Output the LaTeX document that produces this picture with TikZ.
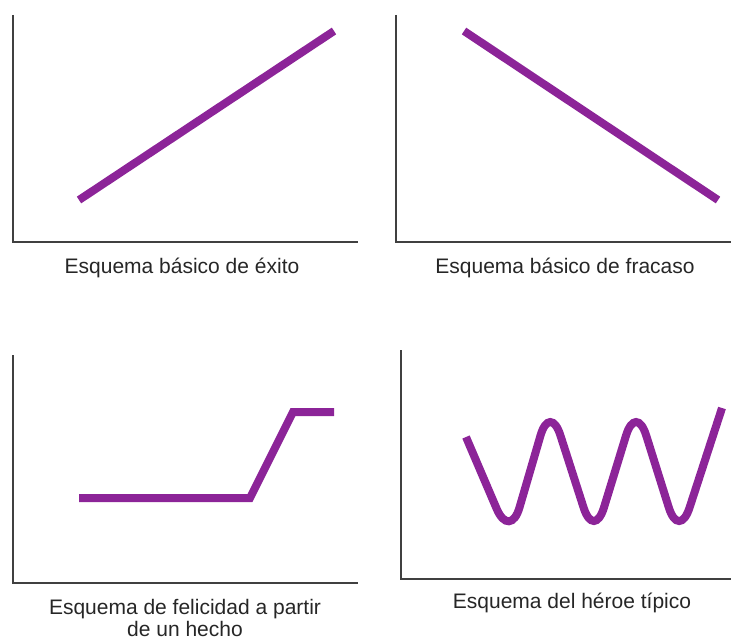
\documentclass[tikz,border=0pt]{standalone}
\usepackage{fontspec}
\setmainfont{Liberation Sans}
\usepackage{xcolor}
\usepackage{tikz}
\usetikzlibrary{positioning,calc}
\definecolor{plotpurple}{RGB}{140,36,152}
\definecolor{axisgray}{RGB}{64,64,64}

\begin{document}
\begin{tikzpicture}[x=1pt, y=-1pt,
    axis/.style={axisgray, line width=2pt},
    curve/.style={plotpurple, line width=8pt},
    caption/.style={anchor=base, text=black!85, font=\fontsize{21}{22}\selectfont}]
    \useasboundingbox (0,0) rectangle (731,642);

    % Exito
    \draw[axis] (13,15) -- (13,242) -- (358,242);
    \draw[curve] (79,200) -- (334,31);
    \node[caption] (exito) at (182,273) {Esquema básico de éxito};

    % Fracaso
    \draw[axis] (396,15) -- (396,242) -- (731,242);
    \draw[curve] (464,31) -- (718,200);
    \node[caption] (fracaso) at (565,273) {Esquema básico de fracaso};

    % Felicidad
    \draw[axis] (13,355) -- (13,583) -- (358,583);
    \draw[curve] (79,498) -- (250,498) -- (293,412) -- (334,412);
    \node[caption, align=center] (felicidad) at (185,636) {Esquema de felicidad a partir\\de un hecho};

    % Heroe
    \draw[axis] (401,350) -- (401,579) -- (731,579);
    \draw[curve, rounded corners=34pt] (466,437) -- (510,540) -- (550,403)
        -- (594,540) -- (636,403) -- (679,540) -- (722,408);
    \node[caption] (heroe) at (572,608) {Esquema del héroe típico};
\end{tikzpicture}
\end{document}
